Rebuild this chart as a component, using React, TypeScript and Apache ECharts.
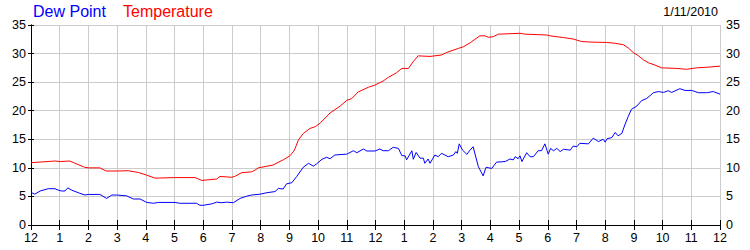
import React, { useEffect, useRef } from "react";
import * as echarts from "echarts";

// minutes after midnight and readings (°C)
const tempMinutes = [0, 50, 61, 81, 112, 120, 144, 157, 178, 203, 224, 241, 259, 300, 343, 357, 388, 395, 419, 426, 440, 461, 468, 475, 506, 527, 541, 548, 552, 559, 569, 583, 594, 604, 625, 646, 660, 670, 684, 705, 719, 736, 747, 764, 775, 789, 799, 809, 834, 858, 869, 893, 904, 918, 938, 949, 956, 966, 977, 1022, 1032, 1078, 1085, 1113, 1133, 1151, 1175, 1203, 1221, 1238, 1248, 1259, 1269, 1280, 1290, 1304, 1318, 1350, 1370, 1391, 1419, 1440];
const temperature = [10.9, 11.2, 11.1, 11.2, 10.1, 10.0, 10.0, 9.45, 9.45, 9.5, 9.2, 8.75, 8.2, 8.3, 8.3, 7.8, 8.05, 8.5, 8.35, 8.5, 9.15, 9.3, 9.6, 10.0, 10.5, 11.4, 12.1, 12.8, 13.4, 14.9, 16.0, 16.9, 17.2, 17.8, 19.6, 20.8, 21.8, 22.1, 23.3, 24.1, 24.5, 25.2, 25.85, 26.65, 27.4, 27.4, 28.6, 29.6, 29.5, 29.75, 30.2, 30.9, 31.2, 31.9, 33.1, 33.1, 32.85, 32.95, 33.4, 33.55, 33.4, 33.25, 33.1, 32.8, 32.55, 32.1, 32.0, 31.95, 31.8, 31.55, 31.0, 30.15, 29.65, 28.9, 28.4, 28.0, 27.5, 27.4, 27.25, 27.5, 27.65, 27.8];

const dewMinutes = [0, 8, 19, 36, 50, 57, 64, 71, 77, 85, 102, 113, 120, 144, 158, 169, 179, 200, 214, 228, 242, 256, 266, 301, 311, 346, 353, 360, 378, 388, 399, 409, 423, 437, 451, 461, 479, 493, 510, 517, 527, 534, 545, 555, 569, 580, 590, 597, 608, 618, 625, 635, 660, 674, 681, 695, 702, 719, 729, 736, 747, 757, 768, 775, 782, 785, 796, 799, 805, 813, 820, 823, 830, 834, 844, 851, 858, 872, 883, 888, 891, 895, 902, 911, 916, 924, 935, 945, 951, 963, 973, 991, 1001, 1008, 1012, 1018, 1022, 1026, 1036, 1043, 1050, 1060, 1067, 1074, 1081, 1086, 1092, 1099, 1106, 1113, 1127, 1133, 1141, 1147, 1165, 1175, 1186, 1196, 1200, 1204, 1214, 1221, 1227, 1235, 1241, 1248, 1255, 1266, 1276, 1287, 1301, 1311, 1322, 1332, 1339, 1356, 1367, 1381, 1395, 1412, 1426, 1440];
const dewPoint = [5.7, 5.4, 5.95, 6.35, 6.35, 6.1, 5.95, 5.95, 6.5, 6.1, 5.55, 5.25, 5.35, 5.35, 4.65, 5.25, 5.25, 5.1, 4.55, 4.55, 3.95, 3.8, 3.95, 3.95, 3.8, 3.8, 3.45, 3.45, 3.7, 4.0, 3.9, 4.0, 3.9, 4.65, 5.05, 5.25, 5.4, 5.65, 5.85, 6.4, 6.3, 7.2, 7.4, 8.45, 10.1, 10.8, 10.3, 10.7, 11.5, 11.85, 11.6, 12.25, 12.4, 13.0, 12.65, 13.3, 12.95, 12.95, 13.3, 13.0, 13.0, 13.6, 13.4, 12.15, 12.1, 11.4, 13.0, 11.5, 12.7, 11.7, 11.7, 10.8, 11.55, 10.8, 12.25, 11.95, 12.55, 11.95, 12.25, 12.85, 12.55, 14.2, 13.1, 12.35, 12.95, 13.7, 10.2, 8.6, 10.1, 9.9, 11.0, 11.1, 11.55, 11.4, 11.95, 11.6, 12.1, 11.1, 12.65, 11.95, 11.95, 13.0, 13.0, 14.2, 12.4, 13.4, 13.0, 13.4, 12.85, 13.25, 13.1, 13.8, 13.7, 14.3, 14.2, 15.2, 14.6, 15.0, 14.5, 15.1, 15.3, 16.2, 15.6, 16.05, 17.5, 18.95, 20.25, 20.8, 21.75, 22.15, 23.15, 23.35, 23.2, 23.5, 23.2, 23.85, 23.55, 23.55, 23.15, 23.15, 23.35, 22.9];

const hourLabels = ["12", "1", "2", "3", "4", "5", "6", "7", "8", "9", "10", "11", "12", "1", "2", "3", "4", "5", "6", "7", "8", "9", "10", "11", "12"];
const legendNames = ["Dew Point", "Temperature"];
const dateLabel = "1/11/2010";

const FONT = "Liberation Sans, Arial, sans-serif";

export default function App() {
  const ref = useRef<HTMLDivElement>(null);
  useEffect(() => {
    if (!ref.current) return;
    const chart = echarts.init(ref.current, undefined, { renderer: "svg" });
    const pairs = (xs: number[], ys: number[]) => xs.map((x, i) => [x, ys[i]]);
    const black = { color: "#000", width: 1 };
    chart.setOption({
      animation: false,
      backgroundColor: "#fff",
      grid: { left: 31, right: 30, top: 25, bottom: 25, containLabel: false },
      graphic: [
        { type: "text", left: 33, top: 3, style: { text: legendNames[0], fill: "#0000ff", font: `16px ${FONT}` } },
        { type: "text", left: 123, top: 3, style: { text: legendNames[1], fill: "#ff0000", font: `16px ${FONT}` } },
        { type: "text", right: 32, top: 5, style: { text: dateLabel, fill: "#000", font: `12.5px ${FONT}` } },
      ],
      xAxis: [
        {
          type: "value", min: 0, max: 1440, interval: 60, position: "bottom",
          axisLine: { show: true, lineStyle: black },
          axisTick: { show: true, inside: true, length: 5, lineStyle: black },
          axisLabel: { formatter: (v: number) => hourLabels[Math.round(v / 60)], color: "#000", fontSize: 12.5, fontFamily: FONT, margin: 6 },
          splitLine: { show: true, lineStyle: { color: "#cccccc", width: 1 } },
        },
        {
          type: "value", min: 0, max: 1440, interval: 60, position: "top",
          axisLine: { show: true, lineStyle: black },
          axisTick: { show: true, inside: true, length: 5, lineStyle: black },
          axisLabel: { show: false },
          splitLine: { show: false },
        },
      ],
      yAxis: [
        {
          type: "value", min: 0, max: 35, interval: 5, position: "left",
          axisLine: { show: true, lineStyle: black },
          axisTick: { show: true, inside: false, length: 3, lineStyle: black },
          axisLabel: { color: "#000", fontSize: 12.5, fontFamily: FONT, margin: 5 },
          splitLine: { show: true, lineStyle: { color: "#cccccc", width: 1 } },
        },
        {
          type: "value", min: 0, max: 35, interval: 5, position: "right",
          axisLine: { show: true, lineStyle: black },
          axisTick: { show: true, inside: false, length: 3, lineStyle: black },
          axisLabel: { color: "#000", fontSize: 12.5, fontFamily: FONT, margin: 6 },
          splitLine: { show: false },
        },
      ],
      series: [
        {
          name: legendNames[0], type: "line", xAxisIndex: 0, yAxisIndex: 0,
          data: pairs(dewMinutes, dewPoint), showSymbol: false, symbol: "none",
          lineStyle: { color: "#0000ff", width: 1 }, itemStyle: { color: "#0000ff" },
        },
        {
          name: legendNames[1], type: "line", xAxisIndex: 0, yAxisIndex: 0,
          data: pairs(tempMinutes, temperature), showSymbol: false, symbol: "none",
          lineStyle: { color: "#ff0000", width: 1 }, itemStyle: { color: "#ff0000" },
        },
      ],
    });
    return () => chart.dispose();
  }, []);
  return <div ref={ref} style={{ position: "fixed", left: 0, top: 0, width: 750, height: 250 }} />;
}
